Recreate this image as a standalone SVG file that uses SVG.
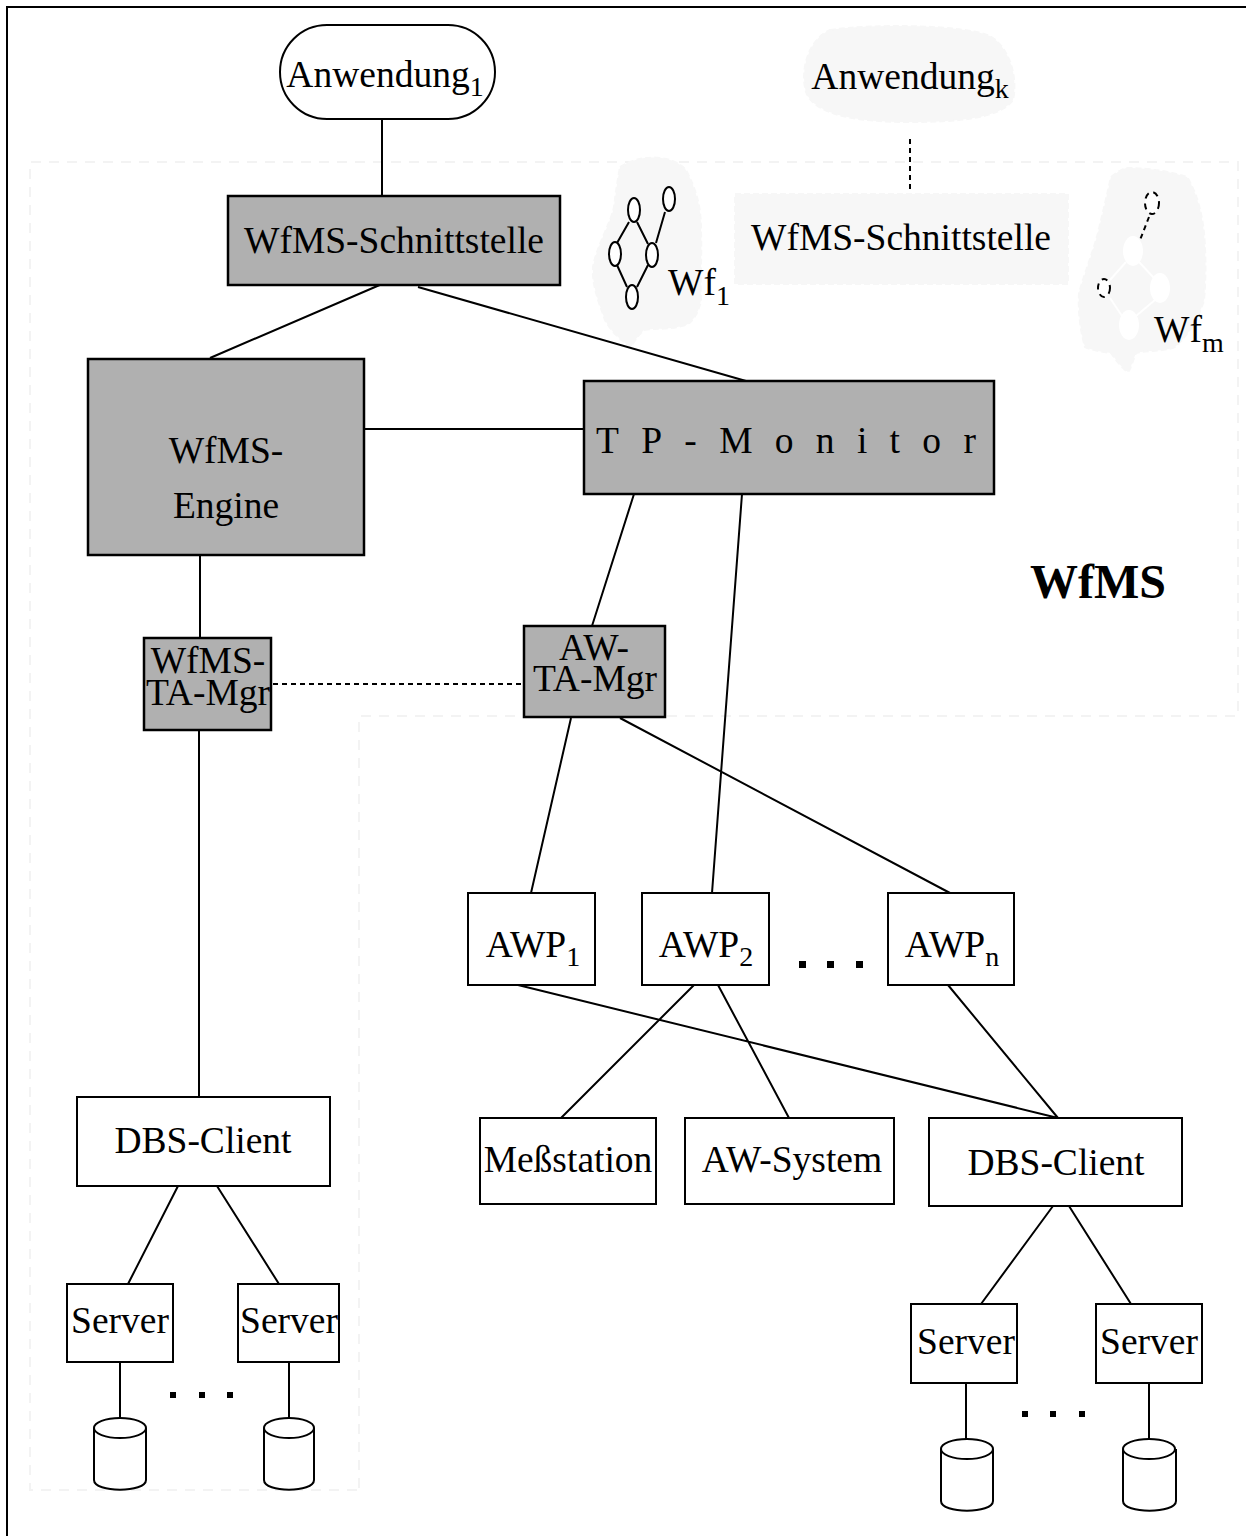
<svg xmlns="http://www.w3.org/2000/svg" width="1246" height="1536" viewBox="0 0 1246 1536">
<style>
text{font-family:"Liberation Serif","Times New Roman",serif;font-size:37.5px;fill:#000;text-anchor:middle}
tspan{font-size:28px}
.b{fill:#fff;stroke:#000;stroke-width:2}
.g{fill:#b0b0b0;stroke:#000;stroke-width:2.5}
.l{fill:none;stroke:#000;stroke-width:2}
.d{fill:none;stroke:#000;stroke-width:2;stroke-dasharray:5 4}
.w{fill:none;stroke:#f3f3f3;stroke-width:2;stroke-dasharray:10 8}
.f{fill:#f7f7f7;stroke:#f7f7f7;stroke-width:2;stroke-dasharray:6 3}
.e{fill:#fff;stroke:#000;stroke-width:2}
.h{fill:#fff;stroke:none}
.v{fill:#fff;stroke:#000;stroke-width:2;stroke-dasharray:6 5}
</style>
<rect width="1246" height="1536" fill="#fff"/>
<path class="l" d="M7 1536V7H1246"/>
<path class="w" d="M359 1488V716H1238V162H30V1490H359"/>
<g id="ghost-shapes">
<path class="f" d="M830 30C870 24 960 24 990 36C1010 48 1018 78 1013 100C1000 118 960 122 910 122C860 122 815 116 806 92C800 70 808 40 830 30Z"/>
<rect class="f" x="735" y="194" width="333" height="90"/>
<path class="f" d="M620 167C640 154 672 154 686 170C696 190 701 205 701 230C702 255 700 280 701 300C698 315 692 322 686 325C670 330 655 328 644 330C638 335 634 342 631 347C620 340 610 330 605 320C598 300 592 285 593 267C597 245 610 225 614 207C616 190 618 178 620 167Z"/>
<path class="f" d="M1111 177C1120 170 1124 168 1128 168C1150 168 1172 172 1187 177C1198 195 1202 215 1204 233C1206 255 1206 280 1204 300C1198 320 1188 335 1175 347C1162 352 1148 350 1136 353C1133 360 1131 368 1128 372C1122 368 1116 360 1111 353C1102 352 1092 350 1085 347C1080 330 1078 310 1079 293C1085 272 1093 252 1098 233C1103 212 1107 195 1111 177Z"/>
</g>
<g id="connectors">
<path class="l" d="M382 118V196M382 284L210 358M418 287L746 381M364 429H584M634 494L592 626M742 494L712 893M200 554V638M199 730V1097M571 718L531 893M620 718L950 893M518 985L1058 1118M694 985L561 1118M718 985L789 1118M948 985L1058 1118M178 1186L128 1284M217 1186L279 1284M1053 1206L981 1304M1069 1206L1131 1304M120 1362V1418M289 1362V1418M966 1383V1439M1149 1383V1439"/>
<path class="d" d="M910 139V192M273 684H523"/>
<path class="l" d="M629 222L617 243M637 222L648 244M665 212L656 243M617 265L627 287M648 265L637 287"/>
<path class="d" d="M1149 217L1140 240"/>
<path d="M1126 262L1110 280M1139 262L1154 278M1110 298L1122 316M1155 300L1136 316" fill="none" stroke="#fff" stroke-width="2"/>
</g>
<g id="anwendung1"><rect class="b" x="280" y="25" width="215" height="94" rx="47"/><text x="385" y="87">Anwendung<tspan dy="9">1</tspan></text></g>
<g id="anwendungk"><text x="910" y="89">Anwendung<tspan dy="9">k</tspan></text></g>
<g id="schnittstelle1"><rect class="g" x="228" y="196" width="332" height="89"/><text x="394" y="253">WfMS-Schnittstelle</text></g>
<g id="schnittstellek"><text x="901" y="250">WfMS-Schnittstelle</text></g>
<g id="wf1">
<ellipse class="e" cx="669" cy="199" rx="6" ry="12"/><ellipse class="e" cx="634" cy="210" rx="6" ry="12"/><ellipse class="e" cx="615" cy="254" rx="6" ry="12"/><ellipse class="e" cx="652" cy="255" rx="6" ry="12"/><ellipse class="e" cx="632" cy="297" rx="6" ry="12"/>
<text x="668" y="295" style="text-anchor:start">Wf<tspan dy="10">1</tspan></text></g>
<g id="wfm">
<ellipse class="h" cx="1133" cy="251" rx="10" ry="15"/><ellipse class="h" cx="1160" cy="288" rx="10" ry="15"/><ellipse class="h" cx="1129" cy="325" rx="10" ry="15"/>
<ellipse class="v" cx="1152" cy="203" rx="7" ry="11"/><ellipse class="v" cx="1104" cy="288" rx="6" ry="9"/>
<text x="1154" y="342" style="text-anchor:start">Wf<tspan dy="10">m</tspan></text></g>
<g id="engine"><rect class="g" x="88" y="359" width="276" height="196"/><text x="226" y="463">WfMS-</text><text x="226" y="518">Engine</text></g>
<g id="tpmonitor"><rect class="g" x="584" y="381" width="410" height="113"/><text x="596" y="453" letter-spacing="22.3" style="text-anchor:start">TP-Monitor</text></g>
<g id="wfmstamgr"><rect class="g" x="144" y="638" width="127" height="92"/><text x="208" y="673">WfMS-</text><text x="208" y="705">TA-Mgr</text></g>
<g id="awtamgr"><rect class="g" x="524" y="626" width="141" height="91"/><text x="594" y="660">AW-</text><text x="595" y="691">TA-Mgr</text></g>
<g id="awp1"><rect class="b" x="468" y="893" width="127" height="92"/><text x="533" y="957">AWP<tspan dy="9">1</tspan></text></g>
<g id="awp2"><rect class="b" x="642" y="893" width="127" height="92"/><text x="706" y="957">AWP<tspan dy="9">2</tspan></text></g>
<g id="awpn"><rect class="b" x="888" y="893" width="126" height="92"/><text x="952" y="957">AWP<tspan dy="9">n</tspan></text></g>
<g id="dots"><path d="M799 961h7v7h-7zM827 961h7v7h-7zM856 961h7v7h-7zM170 1392h6v6h-6zM199 1392h6v6h-6zM227 1392h6v6h-6zM1022 1411h6v6h-6zM1050 1411h6v6h-6zM1079 1411h6v6h-6z"/></g>
<g id="dbs1"><rect class="b" x="77" y="1097" width="253" height="89"/><text x="203" y="1153">DBS-Client</text></g>
<g id="mess"><rect class="b" x="480" y="1118" width="176" height="86"/><text x="568" y="1172">Meßstation</text></g>
<g id="awsys"><rect class="b" x="685" y="1118" width="209" height="86"/><text x="792" y="1172">AW-System</text></g>
<g id="dbs2"><rect class="b" x="929" y="1118" width="253" height="88"/><text x="1056" y="1175">DBS-Client</text></g>
<g id="srv1"><rect class="b" x="67" y="1284" width="106" height="78"/><text x="120" y="1333">Server</text></g>
<g id="srv2"><rect class="b" x="238" y="1284" width="101" height="78"/><text x="289" y="1333">Server</text></g>
<g id="srv3"><rect class="b" x="911" y="1304" width="106" height="79"/><text x="966" y="1354">Server</text></g>
<g id="srv4"><rect class="b" x="1096" y="1304" width="106" height="79"/><text x="1149" y="1354">Server</text></g>
<g id="db1"><path class="b" d="M94 1428V1480C94 1493 146 1493 146 1480V1428"/><ellipse class="b" cx="120" cy="1428" rx="26" ry="10"/></g>
<g id="db2"><path class="b" d="M264 1428V1480C264 1493 314 1493 314 1480V1428"/><ellipse class="b" cx="289" cy="1428" rx="25" ry="10"/></g>
<g id="db3"><path class="b" d="M941 1449V1501C941 1514 993 1514 993 1501V1449"/><ellipse class="b" cx="967" cy="1449" rx="26" ry="10"/></g>
<g id="db4"><path class="b" d="M1123 1449V1501C1123 1514 1176 1514 1176 1501V1449"/><ellipse class="b" cx="1149" cy="1449" rx="26" ry="10"/></g>
<text x="1098" y="598" style="font-size:48px;font-weight:bold">WfMS</text>
</svg>
